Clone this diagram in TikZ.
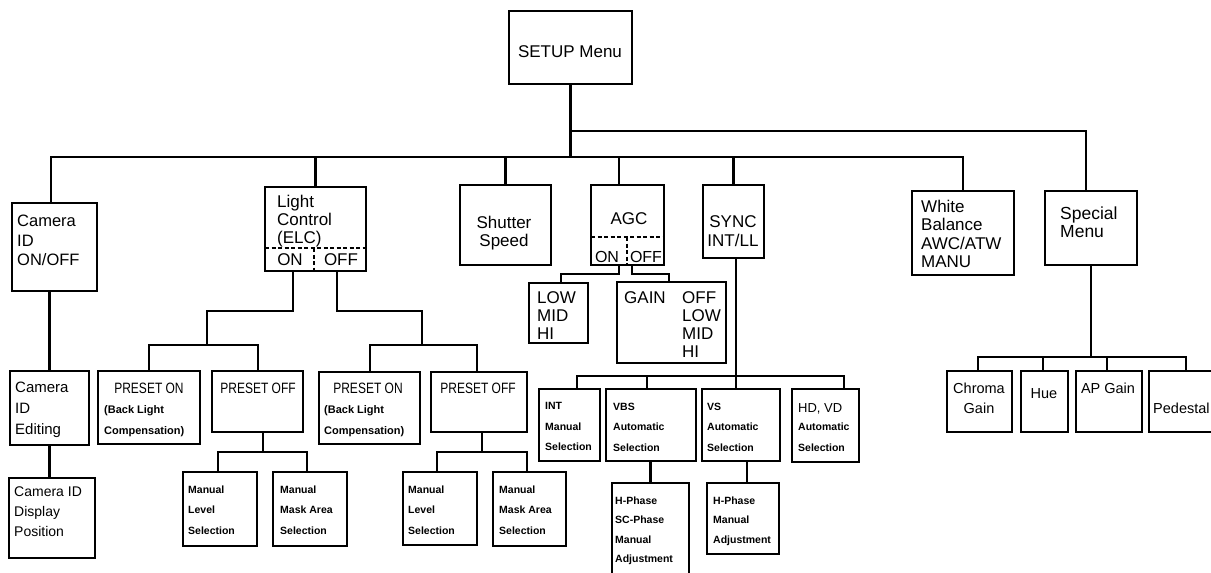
\documentclass[tikz,border=0pt]{standalone}
\usepackage{fontspec}
\setmainfont{Liberation Sans}
\newfontfamily\condf[FakeStretch=0.8]{Liberation Sans}
\newcommand{\mkbox}[5]{\pgfmathsetmacro\bxw{#4-#2}\pgfmathsetmacro\bxh{#5-#3}%
  \node[box, minimum width=\bxw pt, minimum height=\bxh pt] (#1) at (#2,#3) {};}
\begin{document}
\begin{tikzpicture}[x=1pt,y=-1pt,
  box/.style={draw, line width=1.6pt, inner sep=0pt, outer sep=0pt, anchor=north west},
  conn/.style={line width=2.1pt},
  heavy/.style={line width=2.9pt},
  slim/.style={line width=1.6pt},
  dsh/.style={line width=1.4pt, dash pattern=on 4pt off 2.5pt},
  tx/.style={inner sep=0pt, anchor=north west, align=left},
  tc/.style={inner sep=0pt, anchor=north, align=center},
  tb/.style={inner sep=0pt, anchor=base},
  tbw/.style={inner sep=0pt, anchor=base west},
  big/.style={font=\fontsize{17}{18.3}\selectfont},
  small/.style={font=\bfseries\fontsize{10.5}{20.5}\selectfont},
]
\useasboundingbox (0,0) rectangle (1211,573);
\fill[white] (0,0) rectangle (1211,573);

% ---------- boxes ----------
\mkbox{setup}{509}{11}{632}{84}
\mkbox{camid}{12}{203}{97}{291}
\mkbox{light}{265}{187}{366}{271}
\mkbox{shutter}{460}{185}{551}{265}
\mkbox{agc}{591}{185}{664}{265}
\mkbox{sync}{703}{185}{764}{258}
\mkbox{wb}{912}{191}{1014}{275}
\mkbox{special}{1045}{191}{1137}{265}
\mkbox{camedit}{10}{371}{89}{445}
\mkbox{camdisp}{9}{478}{95}{558}
\mkbox{pon1}{98}{371}{200}{444}
\mkbox{poff1}{212}{371}{303}{432}
\mkbox{mls1}{183}{472}{257}{546}
\mkbox{mma1}{273}{472}{347}{546}
\mkbox{pon2}{319}{372}{420}{444}
\mkbox{poff2}{431}{372}{527}{432}
\mkbox{mls2}{403}{472}{477}{545}
\mkbox{mma2}{493}{472}{566}{546}
\mkbox{low}{529}{283}{588}{343}
\mkbox{gain}{617}{282}{726}{363}
\mkbox{int}{539}{389}{600}{461}
\mkbox{vbs}{606}{389}{696}{461}
\mkbox{vs}{702}{389}{780}{461}
\mkbox{hdvd}{792}{389}{859}{462}
\mkbox{hph1}{612}{483}{689}{580}
\mkbox{hph2}{707}{483}{779}{554}
\mkbox{chroma}{947}{371}{1012}{432}
\mkbox{hue}{1021}{371}{1068}{432}
\mkbox{apgain}{1076}{371}{1142}{432}
\mkbox{pedestal}{1149}{371}{1218}{432}

% dashed dividers
\coordinate (ld) at (314,248);
\draw[dsh] (light.west |- ld) -- (light.east |- ld);
\draw[dsh] (ld) -- (light.south -| ld);
\coordinate (ad) at (627,237);
\draw[dsh] (agc.west |- ad) -- (agc.east |- ad);
\draw[dsh] (ad) -- (agc.south -| ad);

% ---------- connectors ----------
\coordinate (busA) at (51,157);
\coordinate (busB) at (963,157);
\coordinate (busC) at (1086,131);
\coordinate (agcx) at (619,157);
\draw[conn] (setup.south) -- (setup.south |- busA);
\draw[conn] (setup.south |- busC) -- (busC) -- (special.north -| busC);
\draw[conn] (camid.north -| busA) -- (busA) -- (busB) -- (wb.north -| busB);
\draw[conn] (light.north) -- (light.north |- busA);
\draw[conn] (shutter.north) -- (shutter.north |- busA);
\draw[conn] (agcx) -- (agc.north -| agcx);
\draw[conn] (sync.north) -- (sync.north |- busA);

% camera ID chain
\draw[conn] (camid.south -| camedit.north) -- (camedit.north);
\draw[conn] (camedit.south) -- (camdisp.north -| camedit.south);

% light control ON
\coordinate (l1) at (293,311);
\coordinate (l2) at (207,311);
\coordinate (lb1) at (149,345);
\coordinate (lb2) at (258,345);
\draw[heavy] (light.south -| l1) -- (l1) -- (l2) -- (l2 |- lb1);
\draw[heavy] (pon1.north -| lb1) -- (lb1) -- (lb2) -- (poff1.north -| lb2);
% light control OFF
\coordinate (r1) at (337,311);
\coordinate (r2) at (422,311);
\coordinate (rb1) at (370,345);
\coordinate (rb2) at (477,345);
\draw[heavy] (light.south -| r1) -- (r1) -- (r2) -- (r2 |- rb1);
\draw[heavy] (pon2.north -| rb1) -- (rb1) -- (rb2) -- (poff2.north -| rb2);

% preset off subtrees
\coordinate (m1) at (263,452);
\coordinate (m1a) at (218,452);
\coordinate (m1b) at (307,452);
\draw[conn] (poff1.south -| m1) -- (m1);
\draw[conn] (mls1.north -| m1a) -- (m1a) -- (m1b) -- (mma1.north -| m1b);
\coordinate (m2) at (482,452);
\coordinate (m2a) at (437,452);
\coordinate (m2b) at (527,452);
\draw[conn] (poff2.south -| m2) -- (m2);
\draw[conn] (mls2.north -| m2a) -- (m2a) -- (m2b) -- (mma2.north -| m2b);

% AGC
\coordinate (a1) at (619,274);
\coordinate (a2) at (561,274);
\coordinate (g1) at (632,274);
\coordinate (g2) at (669,274);
\draw[slim] (agc.south -| a1) -- (a1) -- (a2) -- (low.north -| a2);
\draw[slim] (agc.south -| g1) -- (g1) -- (g2) -- (gain.north -| g2);

% SYNC
\coordinate (s1) at (736,376);
\coordinate (sbL) at (577,376);
\coordinate (sbR) at (844,376);
\coordinate (sv) at (647,376);
\draw[conn] (sync.south -| s1) -- (s1) -- (vs.north -| s1);
\draw[conn] (int.north -| sbL) -- (sbL) -- (sbR) -- (hdvd.north -| sbR);
\draw[conn] (sv) -- (vbs.north -| sv);
\coordinate (h2) at (747,470);
\draw[conn] (vbs.south -| hph1.north) -- (hph1.north);
\draw[conn] (vs.south -| h2) -- (hph2.north -| h2);

% Special menu
\coordinate (spL) at (978,357);
\coordinate (spR) at (1186,357);
\coordinate (spH) at (1043,357);
\coordinate (spA) at (1107,357);
\draw[conn] (special.south) -- (special.south |- spL);
\draw[conn] (chroma.north -| spL) -- (spL) -- (spR) -- (pedestal.north -| spR);
\draw[conn] (spH) -- (hue.north -| spH);
\draw[conn] (spA) -- (apgain.north -| spA);

% ---------- texts ----------
\node[tb, big] (t-setup) at (570,57) {SETUP Menu};
\node[tx, font=\fontsize{16.5}{19.5}\selectfont] (t-camid) at (17,215) {Camera\\ID\\ON/OFF};
\node[tx, font=\fontsize{17}{18}\selectfont] (t-light) at (277,195) {Light\\Control\\(ELC)};
\node[tb, big] (t-lon) at (290,265) {ON};
\node[tb, big] (t-loff) at (341,265) {OFF};
\node[tc, font=\fontsize{17}{18}\selectfont] (t-shutter) at (504,216) {Shutter\\Speed};
\node[tb, big] (t-agc) at (629,224) {AGC};
\node[tb, font=\fontsize{16}{16}\selectfont] (t-aon) at (607,262) {ON};
\node[tb, font=\fontsize{16}{16}\selectfont] (t-aoff) at (646,262) {OFF};
\node[tc, font=\fontsize{17}{19}\selectfont] (t-sync) at (733,215) {SYNC\\INT/LL};
\node[tx, big] (t-wb) at (921,200) {White\\Balance\\AWC/ATW\\MANU};
\node[tx, font=\fontsize{17.5}{18}\selectfont] (t-special) at (1060,207) {Special\\Menu};
\node[tx, font=\fontsize{15}{21}\selectfont] (t-camedit) at (15,382) {Camera\\ID\\Editing};
\node[tx, font=\fontsize{14}{20}\selectfont] (t-camdisp) at (14,487) {Camera ID\\Display\\Position};

\node[tb, font=\condf\fontsize{15}{18}\selectfont] (t-pon1) at (149,393) {PRESET ON};
\node[tx, font=\bfseries\fontsize{11}{21}\selectfont] (t-pon1s) at (104,405) {(Back Light\\Compensation)};
\node[tb, font=\condf\fontsize{15}{18}\selectfont] (t-poff1) at (258,393) {PRESET OFF};
\node[tx, small] (t-mls1) at (188,485.5) {Manual\\Level\\Selection};
\node[tx, small] (t-mma1) at (280,485.5) {Manual\\Mask Area\\Selection};

\node[tb, font=\condf\fontsize{15}{18}\selectfont] (t-pon2) at (368,393) {PRESET ON};
\node[tx, font=\bfseries\fontsize{11}{21}\selectfont] (t-pon2s) at (324,405) {(Back Light\\Compensation)};
\node[tb, font=\condf\fontsize{15}{18}\selectfont] (t-poff2) at (478,393) {PRESET OFF};
\node[tx, small] (t-mls2) at (408,485.5) {Manual\\Level\\Selection};
\node[tx, small] (t-mma2) at (499,485.5) {Manual\\Mask Area\\Selection};

\node[tx, big] (t-low) at (537,291) {LOW\\MID\\HI};
\node[tx, big] (t-gain) at (624,291) {GAIN};
\node[tx, big] (t-gainv) at (682,291) {OFF\\LOW\\MID\\HI};

\node[tx, small] (t-int) at (545,402.5) {INT\\Manual\\Selection};
\node[tx, small] (t-vbs) at (613,402.5) {VBS\\Automatic\\Selection};
\node[tx, small] (t-vs) at (707,402.5) {VS\\Automatic\\Selection};
\node[tbw, font=\fontsize{13}{16}\selectfont] (t-hdvd) at (798,412) {HD, VD};
\node[tx, font=\bfseries\fontsize{10.5}{21}\selectfont] (t-hdvds) at (798,422.5) {Automatic\\Selection};
\node[tx, font=\bfseries\fontsize{10.5}{19.5}\selectfont] (t-hph1) at (615,496.5) {H-Phase\\SC-Phase\\Manual\\Adjustment};
\node[tx, font=\bfseries\fontsize{10.5}{19.5}\selectfont] (t-hph2) at (713,496.5) {H-Phase\\Manual\\Adjustment};

\node[tc, font=\fontsize{14.5}{20}\selectfont] (t-chroma) at (979,382.5) {Chroma\\Gain};
\node[tb, font=\fontsize{14.5}{18}\selectfont] (t-hue) at (1044,398) {Hue};
\node[tb, font=\fontsize{14.5}{18}\selectfont] (t-apgain) at (1108,393) {AP Gain};
\node[tbw, font=\fontsize{14.5}{18}\selectfont] (t-pedestal) at (1153,413) {Pedestal};
\end{tikzpicture}
\end{document}
